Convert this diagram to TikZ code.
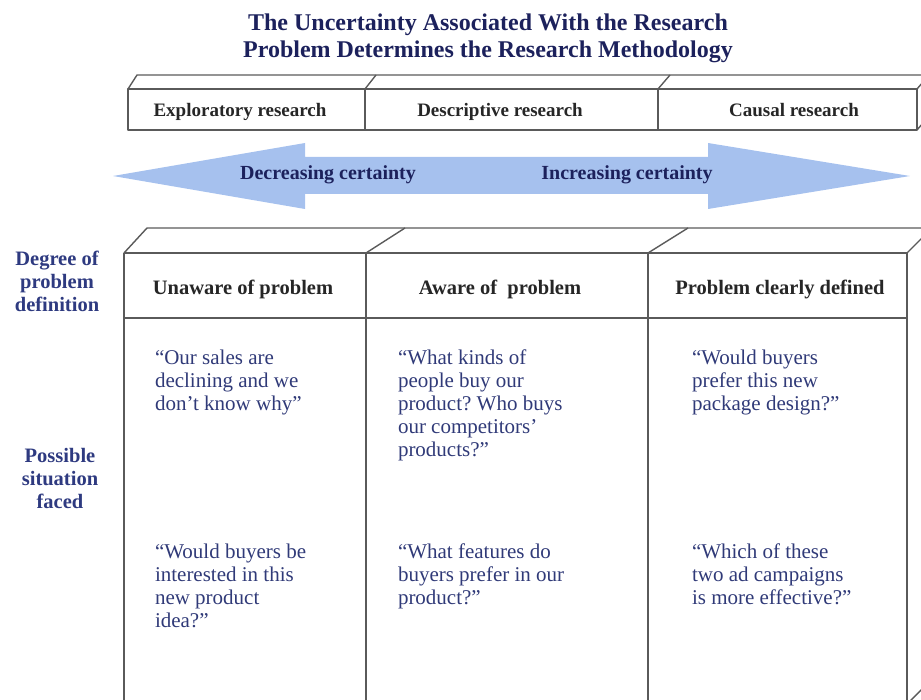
\documentclass[tikz,border=0pt]{standalone}
\usepackage{fontspec}
\setmainfont{Liberation Serif}
\usepackage{tikz}
\frenchspacing
\definecolor{titlenavy}{RGB}{28,33,92}
\definecolor{labelnavy}{RGB}{46,58,128}
\definecolor{quotenavy}{RGB}{48,58,120}
\definecolor{framegray}{RGB}{90,90,90}
\definecolor{arrowblue}{RGB}{166,193,238}

\begin{document}
\begin{tikzpicture}[
  x=1pt, y=-1pt,
  every node/.style={inner sep=0pt, outer sep=0pt},
  frame/.style={draw=framegray, line width=1.4pt, line join=round},
  title/.style={font=\fontsize{24}{27}\selectfont\bfseries, text=titlenavy, align=center},
  method/.style={font=\fontsize{19}{22}\selectfont\bfseries, text=black!85, anchor=base},
  heading/.style={font=\fontsize{20.5}{22}\selectfont\bfseries, text=black!85, anchor=base},
  sidelabel/.style={font=\fontsize{20.5}{23}\selectfont\bfseries, text=labelnavy, align=center},
  quote/.style={font=\fontsize{21}{23}\selectfont, text=quotenavy, align=left, anchor=north west},
  certainty/.style={font=\fontsize{20}{22}\selectfont\bfseries, text=titlenavy, anchor=base}
]
  \useasboundingbox (0,0) rectangle (921,700);
  \clip (0,0) rectangle (921,700);

  % Title
  \node[title] (title) at (488,38.5) {The Uncertainty Associated With the Research\\
    Problem Determines the Research Methodology};

  % Top box: research types
  \draw[frame] (128,89) rectangle (917,130);
  \draw[frame] (365,89) -- (365,130) (658,89) -- (658,130);
  \draw[frame] (128,89) -- (137,75) -- (935,75);
  \draw[frame] (365,89) -- (376,75) (658,89) -- (670,75) (917,89) -- (929,75);
  \draw[frame] (917,130) -- (929,116);
  \node[method] (exploratory) at (240,117) {Exploratory research};
  \node[method] (descriptive) at (500,117) {Descriptive research};
  \node[method] (causal) at (794,117) {Causal research};

  % Certainty arrow
  \fill[arrowblue] (113,176) -- (305,143) -- (305,157) -- (708,157) -- (708,143)
    -- (910,176) -- (708,209) -- (708,194) -- (305,194) -- (305,209) -- cycle;
  \node[certainty] (decreasing) at (328,180) {Decreasing certainty};
  \node[certainty] (increasing) at (627,180) {Increasing certainty};

  % Bottom box: problem definition and situations
  \draw[frame] (124,253) -- (907,253) (124,318) -- (907,318);
  \draw[frame] (124,253) -- (124,705) (366,253) -- (366,705)
    (648,253) -- (648,705) (907,253) -- (907,705);
  \draw[frame] (124,253) -- (147,228) -- (935,228);
  \draw[frame] (366,253) -- (405,228) (648,253) -- (688,228) (907,253) -- (932,228);
  \draw[frame] (907,704) -- (932,679);

  % Row labels
  \node[sidelabel] (degreelbl) at (57,281) {Degree of\\problem\\definition};
  \node[sidelabel] (situationlbl) at (60,478) {Possible\\situation\\faced};

  % Column headings
  \node[heading] (unaware) at (243,295) {Unaware of problem};
  \node[heading] (aware) at (500,295) {Aware of\ \ problem};
  \node[heading] (defined) at (780,295) {Problem clearly defined};

  % Situations, first row
  \node[quote] (salesquote) at (155,350) {“Our sales are\\declining and we\\don’t know why”};
  \node[quote] (kindsquote) at (398,350) {“What kinds of\\people buy our\\product? Who buys\\our competitors’\\products?”};
  \node[quote] (packagequote) at (692,350) {“Would buyers\\prefer this new\\package design?”};

  % Situations, second row
  \node[quote] (ideaquote) at (155,544) {“Would buyers be\\interested in this\\new product\\idea?”};
  \node[quote] (featuresquote) at (398,544) {“What features do\\buyers prefer in our\\product?”};
  \node[quote] (campaignquote) at (692,544) {“Which of these\\two ad campaigns\\is more effective?”};

\end{tikzpicture}
\end{document}
